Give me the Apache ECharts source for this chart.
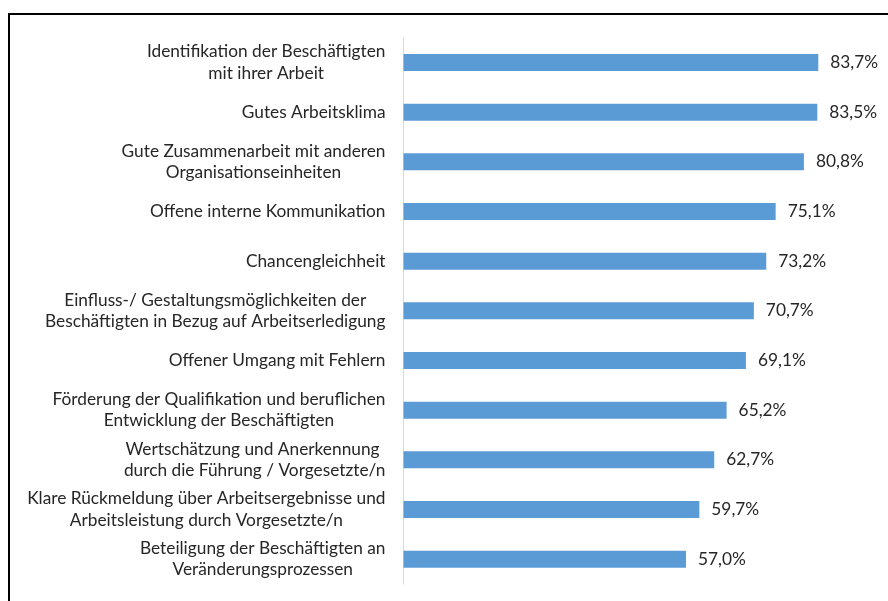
<!DOCTYPE html>
<html>
<head>
<meta charset="utf-8">
<script src="https://cdn.jsdelivr.net/npm/echarts@6/dist/echarts.min.js"></script>
<style>
html,body{margin:0;padding:0;background:#fff;}
#chart{width:888px;height:601px;}
</style>
</head>
<body>
<div id="chart"></div>
<script>
const categories = [
  "Identifikation der Beschäftigten\nmit ihrer Arbeit",
  "Gutes Arbeitsklima",
  "Gute Zusammenarbeit mit anderen\nOrganisationseinheiten",
  "Offene interne Kommunikation",
  "Chancengleichheit",
  "Einfluss-/ Gestaltungsmöglichkeiten der\nBeschäftigten in Bezug auf Arbeitserledigung",
  "Offener Umgang mit Fehlern",
  "Förderung der Qualifikation und beruflichen\nEntwicklung der Beschäftigten",
  "Wertschätzung und Anerkennung \ndurch die Führung / Vorgesetzte/n",
  "Klare Rückmeldung über Arbeitsergebnisse und\nArbeitsleistung durch Vorgesetzte/n",
  "Beteiligung der Beschäftigten an\nVeränderungsprozessen"
];
const values = [83.7, 83.5, 80.8, 75.1, 73.2, 70.7, 69.1, 65.2, 62.7, 59.7, 57.0];

const chart = echarts.init(document.getElementById('chart'));
const font = 'Lato';
chart.setOption({
  animation: false,
  backgroundColor: '#ffffff',
  graphic: [{
    type: 'rect',
    shape: {x: 9, y: 14, width: 1000, height: 1000},
    style: {fill: 'none', stroke: '#000', lineWidth: 2},
    silent: true
  }],
  grid: {left: 403.5, top: 37.7, width: 446, bottom: 17, containLabel: false},
  xAxis: {
    type: 'value', min: 0, max: 90,
    show: false
  },
  yAxis: {
    type: 'category',
    data: categories,
    inverse: true,
    axisLine: {show: true, lineStyle: {color: '#d9d9d9', width: 1}},
    axisTick: {show: false},
    axisLabel: {
      margin: 18, color: '#262626', fontFamily: font, fontSize: 17.3,
      lineHeight: 21.5, align: 'right',
      formatter: v => v.split('\n').map(l => '{c|' + l + '}').join('\n'),
      rich: {
        c: {align: 'center', color: '#262626', fontFamily: font, fontSize: 17.3, lineHeight: 21.5}
      }
    }
  },
  series: [{
    type: 'bar',
    data: values,
    barWidth: 17,
    itemStyle: {color: '#5b9bd5'},
    label: {
      show: true, position: 'right', distance: 12,
      color: '#262626', fontFamily: font, fontSize: 17.3,
      formatter: p => p.value.toFixed(1).replace('.', ',') + '%'
    }
  }]
});
</script>
</body>
</html>
